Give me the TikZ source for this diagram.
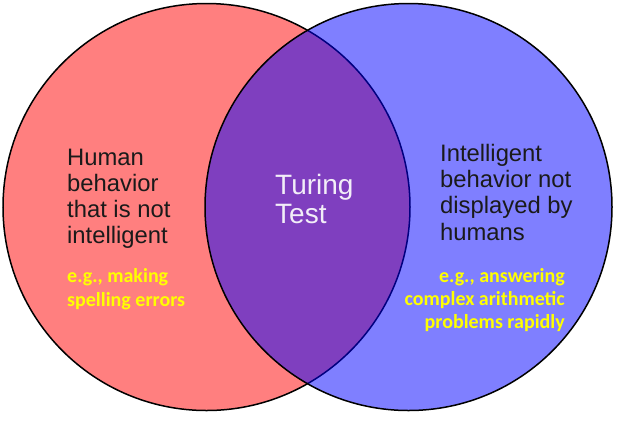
\documentclass[tikz,border=0pt]{standalone}
\usepackage{fontspec}
\setmainfont{Liberation Sans}
\newfontfamily\calibrifont{Carlito}
\definecolor{inktext}{HTML}{1A1A1A}
\definecolor{hilite}{HTML}{FFFF00}
\definecolor{overlaptext}{HTML}{F2EEF8}
\begin{document}
\begin{tikzpicture}[x=1pt,y=-1pt,
  setborder/.style={line width=1.5pt, draw=black},
  bodytext/.style={inner sep=0pt, text=inktext, font=\fontsize{23.8}{27}\selectfont},
  exampletext/.style={inner sep=0pt, text=hilite, font=\calibrifont\bfseries\fontsize{20}{24}\selectfont},
  centertext/.style={inner sep=0pt, text=overlaptext, font=\fontsize{28}{30}\selectfont}]
\useasboundingbox (0,0) rectangle (618,424);

% the two sets, translucent so the overlap mixes to purple
\fill[white] (0,0) rectangle (618,424);
\path[setborder, fill=red, fill opacity=0.5] (206.5,207) circle[radius=203.5];
\path[setborder, fill=blue, fill opacity=0.5] (408.5,207) circle[radius=203.5];

% left set
\node[bodytext, anchor=base west] (h1) at (67,165) {Human};
\node[bodytext, anchor=base west] (h2) at (67,191.5) {behavior};
\node[bodytext, anchor=base west] (h3) at (67,217.5) {that is not};
\node[bodytext, anchor=base west] (h4) at (67,243) {intelligent};
\node[exampletext, anchor=base west] (e1) at (67,282) {e.g., making};
\node[exampletext, anchor=base west] (e2) at (67,306) {spelling errors};

% overlap
\node[centertext, anchor=base west] (t1) at (275,194) {Turing};
\node[centertext, anchor=base west] (t2) at (275,223) {Test};

% right set
\node[bodytext, anchor=base west] (r1) at (440,161) {Intelligent};
\node[bodytext, anchor=base west] (r2) at (440,187.5) {behavior not};
\node[bodytext, anchor=base west] (r3) at (440,213.5) {displayed by};
\node[bodytext, anchor=base west] (r4) at (440,240) {humans};
\node[exampletext, anchor=base east] (f1) at (565,282) {e.g., answering};
\node[exampletext, anchor=base east] (f2) at (565,305) {complex arithmetic};
\node[exampletext, anchor=base east] (f3) at (565,328) {problems rapidly};
\end{tikzpicture}
\end{document}
